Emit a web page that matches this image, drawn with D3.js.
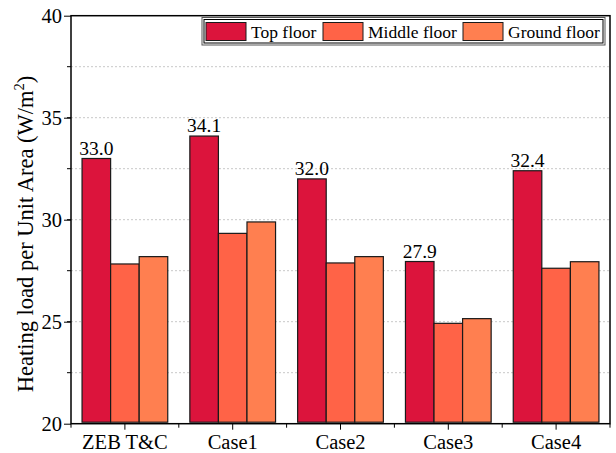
<!DOCTYPE html>
<html><head><meta charset="utf-8">
<script src="https://cdn.jsdelivr.net/npm/d3@7"></script>
<style>body{margin:0;background:#fff}svg{display:block}text{font-family:"Liberation Serif","Times New Roman",serif;fill:#000}</style>
</head><body>
<svg id="c" width="616" height="453"></svg>
<script>
const categories = ["ZEB T&C", "Case1", "Case2", "Case3", "Case4"];
const seriesNames = ["Top floor", "Middle floor", "Ground floor"];
const topFloor = [33.0, 34.1, 32.0, 27.95, 32.4];
const middleFloor = [27.83, 29.33, 27.88, 24.92, 27.62];
const groundFloor = [28.19, 29.89, 28.19, 25.15, 27.94];
const topLabels = ["33.0", "34.1", "32.0", "27.9", "32.4"];
const yTicks = [20, 25, 30, 35, 40];
const colors = ["#DC143C", "#FF6347", "#FF7F50"];

const series = [topFloor, middleFloor, groundFloor];
const svg = d3.select("#c");
const L = 71, R = 610, T = 15.7, B = 423.7;
const x0 = d3.scaleBand().domain(categories).range([L, R]).paddingInner(0.205).paddingOuter(0.1025);
const x1 = d3.scaleBand().domain(seriesNames).range([0, x0.bandwidth()]);
const y = d3.scaleLinear().domain([20, 40]).range([B, T]);

// grid
const gridVals = d3.range(22.5, 40, 2.5);
svg.append("g").selectAll("line").data(gridVals).join("line")
  .attr("x1", L).attr("x2", R).attr("y1", d => y(d)).attr("y2", d => y(d))
  .attr("stroke", "#c8c8c8").attr("stroke-width", 1).attr("stroke-dasharray", "2,2");

// bars
const g = svg.append("g");
categories.forEach((c, i) => {
  series.forEach((s, j) => {
    g.append("rect")
      .attr("x", x0(c) + x1(seriesNames[j]))
      .attr("y", y(s[i]))
      .attr("width", x1.bandwidth())
      .attr("height", y(20) - y(s[i]) - 1.5)
      .attr("fill", colors[j]).attr("stroke", "#1a1a1a").attr("stroke-width", 1.2);
  });
  g.append("text")
    .attr("x", x0(c) + x1(seriesNames[0]) + x1.bandwidth() / 2)
    .attr("y", y(topFloor[i]) - 4)
    .attr("text-anchor", "middle").attr("font-size", 19.5).text(topLabels[i]);
});

// axes
const yAxis = d3.axisLeft(y).tickValues(yTicks).tickSize(7).tickPadding(2).tickFormat(d3.format("d"));
const ya = svg.append("g").attr("transform", `translate(${L},0)`).call(yAxis);
ya.selectAll("text").attr("font-size", 20.5).attr("font-family", "Liberation Serif");
ya.select(".domain").remove();
svg.append("g").selectAll("line").data(gridVals).join("line")
  .attr("x1", L - 4).attr("x2", L).attr("y1", d => y(d)).attr("y2", d => y(d)).attr("stroke", "#000");

const xAxis = d3.axisBottom(x0).tickSize(6).tickPadding(5);
const xa = svg.append("g").attr("transform", `translate(0,${B})`).call(xAxis);
xa.selectAll("text").attr("font-size", 20.5).attr("font-family", "Liberation Serif");
xa.select(".domain").remove();
svg.append("g").selectAll("line").data(d3.range(0, categories.length + 1)).join("line")
  .attr("x1", d => L + d * (R - L) / categories.length).attr("x2", d => L + d * (R - L) / categories.length)
  .attr("y1", B).attr("y2", B + 4).attr("stroke", "#000");

// frame
svg.append("rect").attr("x", L).attr("y", T).attr("width", R - L).attr("height", B - T)
  .attr("fill", "none").attr("stroke", "#000").attr("stroke-width", 1.5);

// y title
svg.append("text").attr("transform", `translate(33,234) rotate(-90)`)
  .attr("text-anchor", "middle").attr("font-size", 22.5)
  .html('Heating load per Unit Area (W/m<tspan dy="-9" font-size="14.5">2</tspan><tspan dy="9">)</tspan>');

// legend
const lg = svg.append("g");
lg.append("rect").attr("x", 202).attr("y", 17.5).attr("width", 403).attr("height", 27.5)
  .attr("fill", "#fff").attr("stroke", "#555").attr("stroke-width", 1);
lg.append("rect").attr("x", 204).attr("y", 19.5).attr("width", 399).attr("height", 23.5)
  .attr("fill", "none").attr("stroke", "#000").attr("stroke-width", 1);
const legX = [206, 323, 463];
seriesNames.forEach((n, j) => {
  lg.append("rect").attr("x", legX[j]).attr("y", 22.5).attr("width", 40).attr("height", 18)
    .attr("fill", colors[j]).attr("stroke", "#1a1a1a").attr("stroke-width", 1);
  lg.append("text").attr("x", legX[j] + 45).attr("y", 38).attr("font-size", 17.5).text(n);
});
</script>
</body></html>
